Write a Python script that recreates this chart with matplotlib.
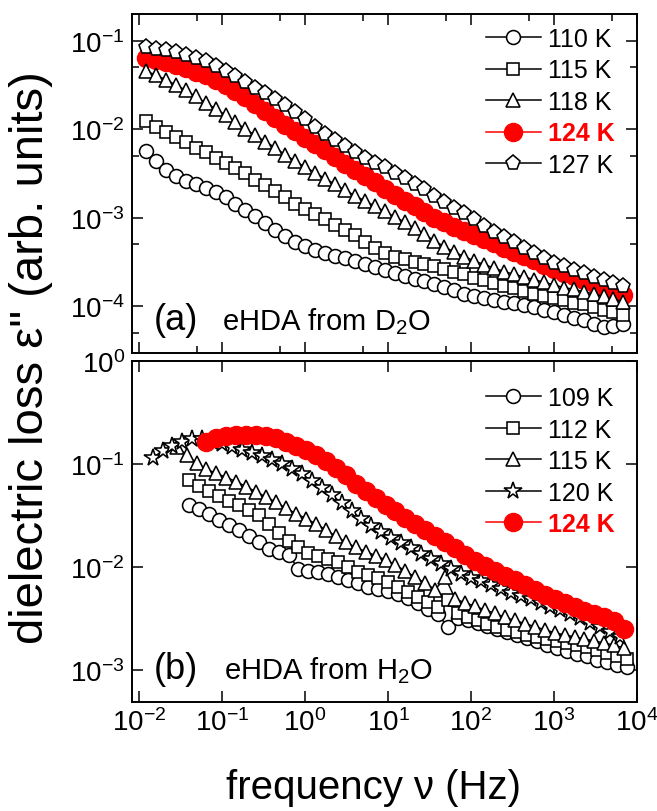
import numpy as np
import matplotlib
matplotlib.use("Agg")
import matplotlib.pyplot as plt
from matplotlib.ticker import LogLocator, NullFormatter, NullLocator

plt.rcParams['font.family'] = ['Liberation Sans', 'DejaVu Sans']
plt.rcParams['mathtext.fontset'] = 'custom'
plt.rcParams['mathtext.rm'] = 'Liberation Sans'
plt.rcParams['mathtext.it'] = 'Liberation Sans:italic'
plt.rcParams['mathtext.bf'] = 'Liberation Sans:bold'

# ---------------- panel (a): eHDA from D2O ----------------
# measurement frequency grid (log10 Hz)
logf_a = np.round(np.arange(-1.92, 3.85, 0.12), 2)
labels_a = ["110 K", "115 K", "118 K", "124 K", "127 K"]
# log10(eps'')
a_110 = [-2.25, -2.36, -2.46, -2.53, -2.58, -2.62, -2.66, -2.71, -2.77, -2.84,
         -2.91, -2.98, -3.06, -3.14, -3.21, -3.27, -3.32, -3.36, -3.40, -3.43,
         -3.46, -3.49, -3.52, -3.56, -3.59, -3.63, -3.66, -3.69, -3.72, -3.75,
         -3.78, -3.82, -3.86, -3.89, -3.91, -3.93, -3.95, -3.97, -3.99, -4.01,
         -4.04, -4.07, -4.10, -4.13, -4.16, -4.20, -4.24, -4.22, -4.20]
a_115 = [-1.91, -1.97, -2.03, -2.09, -2.15, -2.21, -2.26, -2.32, -2.38, -2.44,
         -2.50, -2.57, -2.63, -2.70, -2.77, -2.84, -2.90, -2.96, -3.02, -3.08,
         -3.14, -3.20, -3.27, -3.34, -3.40, -3.44, -3.47, -3.50, -3.52, -3.55,
         -3.58, -3.61, -3.64, -3.68, -3.71, -3.74, -3.77, -3.80, -3.83, -3.86,
         -3.89, -3.91, -3.93, -3.96, -3.98, -4.01, -4.04, -4.07, -4.10]
a_118 = [-1.34, -1.39, -1.44, -1.50, -1.56, -1.63, -1.70, -1.77, -1.84, -1.92,
         -2.00, -2.07, -2.14, -2.21, -2.29, -2.36, -2.43, -2.49, -2.56, -2.62,
         -2.69, -2.75, -2.81, -2.87, -2.93, -2.99, -3.05, -3.12, -3.19, -3.26,
         -3.33, -3.39, -3.44, -3.49, -3.53, -3.57, -3.61, -3.64, -3.67, -3.70,
         -3.73, -3.76, -3.79, -3.81, -3.84, -3.86, -3.89, -3.92, -3.95]
a_124 = [-1.20, -1.22, -1.24, -1.27, -1.31, -1.35, -1.39, -1.44, -1.50, -1.57,
         -1.64, -1.71, -1.79, -1.87, -1.95, -2.02, -2.10, -2.17, -2.24, -2.31,
         -2.39, -2.46, -2.53, -2.60, -2.68, -2.74, -2.81, -2.87, -2.94, -3.00,
         -3.05, -3.10, -3.15, -3.20, -3.24, -3.29, -3.34, -3.39, -3.43, -3.48,
         -3.53, -3.58, -3.62, -3.66, -3.70, -3.74, -3.78, -3.83, -3.87]
a_127 = [-1.07, -1.09, -1.11, -1.13, -1.16, -1.19, -1.23, -1.28, -1.34, -1.40,
         -1.47, -1.53, -1.59, -1.66, -1.73, -1.80, -1.88, -1.97, -2.05, -2.12,
         -2.19, -2.26, -2.32, -2.38, -2.43, -2.49, -2.55, -2.62, -2.68, -2.75,
         -2.82, -2.89, -2.95, -3.02, -3.09, -3.16, -3.22, -3.28, -3.34, -3.40,
         -3.46, -3.51, -3.55, -3.59, -3.63, -3.67, -3.70, -3.74, -3.77]

# ---------------- panel (b): eHDA from H2O ----------------
labels_b = ["109 K", "112 K", "115 K", "120 K", "124 K"]
logf_b109 = np.round(np.arange(-1.40, 3.89, 0.12), 2)
b_109 = [-1.40, -1.44, -1.48, -1.54, -1.59, -1.64, -1.70, -1.76, -1.83, -1.85,
         -1.88, -2.02, -2.04, -2.05, -2.07, -2.10, -2.13, -2.16, -2.19, -2.21,
         -2.23, -2.26, -2.30, -2.35, -2.41, -2.46, -2.58, -2.50, -2.52, -2.54,
         -2.57, -2.60, -2.63, -2.66, -2.69, -2.72, -2.76, -2.79, -2.82, -2.85,
         -2.87, -2.90, -2.92, -2.95, -2.97]
logf_b112 = np.round(np.arange(-1.40, 3.89, 0.12), 2)
b_112 = [-1.15, -1.21, -1.26, -1.31, -1.36, -1.40, -1.45, -1.49, -1.58, -1.67,
         -1.75, -1.81, -1.86, -1.89, -1.92, -1.95, -2.00, -2.05, -2.08, -2.11,
         -2.15, -2.19, -2.24, -2.29, -2.34, -2.39, -2.32, -2.45, -2.49, -2.52,
         -2.55, -2.58, -2.61, -2.63, -2.66, -2.68, -2.70, -2.72, -2.74, -2.76,
         -2.78, -2.81, -2.84, -2.87, -2.89]
logf_b115 = np.round(np.arange(-1.55, 3.86, 0.12), 2)
b_115 = [-0.83, -0.91, -0.99, -1.05, -1.09, -1.13, -1.17, -1.22, -1.27, -1.32,
         -1.37, -1.43, -1.48, -1.53, -1.58, -1.64, -1.70, -1.76, -1.81, -1.85,
         -1.89, -1.93, -1.98, -2.04, -2.10, -2.16, -2.22, -2.10, -2.31, -2.35,
         -2.38, -2.42, -2.45, -2.49, -2.52, -2.55, -2.58, -2.61, -2.64, -2.66,
         -2.68, -2.70, -2.72, -2.74, -2.76, -2.79]
logf_b120 = np.round(np.arange(-1.84, 3.81, 0.12), 2)
b_120 = [-0.94, -0.87, -0.82, -0.78, -0.76, -0.76, -0.78, -0.80, -0.83, -0.86,
         -0.89, -0.92, -0.96, -1.00, -1.05, -1.10, -1.16, -1.23, -1.30, -1.38,
         -1.46, -1.53, -1.60, -1.66, -1.72, -1.77, -1.82, -1.87, -1.92, -1.97,
         -2.02, -2.07, -2.11, -2.14, -2.18, -2.21, -2.25, -2.28, -2.31, -2.35,
         -2.39, -2.42, -2.46, -2.50, -2.54, -2.58, -2.63, -2.68]
logf_b124 = np.round(np.arange(-1.19, 3.86, 0.12), 2)
b_124 = [-0.78, -0.75, -0.73, -0.72, -0.715, -0.72, -0.73, -0.75, -0.78, -0.82,
         -0.86, -0.91, -0.97, -1.04, -1.11, -1.19, -1.26, -1.33, -1.40, -1.46,
         -1.52, -1.58, -1.64, -1.70, -1.76, -1.82, -1.88, -1.94, -1.99, -2.04,
         -2.09, -2.13, -2.18, -2.22, -2.27, -2.31, -2.35, -2.39, -2.43, -2.46,
         -2.49, -2.53, -2.60]

W, H = 657, 812
fig = plt.figure(figsize=(W / 100, H / 100), dpi=100)
L, R = 131.7, 636.7
ax1 = fig.add_axes([L / W, 1 - 354.0 / H, (R - L) / W, (354.0 - 14.7) / H])
ax2 = fig.add_axes([L / W, 1 - 702.7 / H, (R - L) / W, (702.7 - 362.3) / H])

def f(v):
    return 10 ** np.asarray(v, dtype=float)

lw = 1.1
mew = 1.15
RED_MS = 13
styles_a = [dict(marker='o', ms=10), dict(marker='s', ms=8.5), dict(marker='^', ms=10.5),
            None, dict(marker='p', ms=11)]
series_a = [a_110, a_115, a_118, a_124, a_127]

handles_a = []
for lab, ys, st in zip(labels_a, series_a, styles_a):
    if st is None:
        h, = ax1.plot(f(logf_a), f(ys), color='red', lw=lw, marker='o', ms=RED_MS,
                      mfc='red', mec='red', label=lab, zorder=2)
    else:
        h, = ax1.plot(f(logf_a), f(ys), color='black', lw=lw, mfc='white', mec='black',
                      mew=mew, label=lab, zorder=3, **st)
    handles_a.append(h)

series_b = [(logf_b109, b_109), (logf_b112, b_112), (logf_b115, b_115),
            (logf_b120, b_120), (logf_b124, b_124)]
styles_b = [dict(marker='o', ms=10), dict(marker='s', ms=8.5), dict(marker='^', ms=10.5),
            dict(marker='*', ms=13), None]
handles_b = []
for lab, (xs, ys), st in zip(labels_b, series_b, styles_b):
    if st is None:
        h, = ax2.plot(f(xs), f(ys), color='red', lw=lw, marker='o', ms=RED_MS,
                      mfc='red', mec='red', label=lab, zorder=4)
    else:
        h, = ax2.plot(f(xs), f(ys), color='black', lw=lw, mfc='white', mec='black',
                      mew=mew, label=lab, zorder=3, **st)
    handles_b.append(h)

for ax in (ax1, ax2):
    ax.set_xscale('log')
    ax.set_yscale('log')
    ax.set_xlim(10 ** -2.092, 1e4)
    for s in ax.spines.values():
        s.set_linewidth(1.4)
    ax.tick_params(which='both', direction='in', top=True, right=True, labelsize=20,
                   width=1.1, pad=5)
    ax.tick_params(which='major', length=7.7)
    ax.tick_params(which='minor', length=5)
    ax.xaxis.set_major_locator(LogLocator(base=10, numticks=20))
    ax.yaxis.set_major_locator(LogLocator(base=10, numticks=20))

ax1.set_ylim(10 ** -4.53, 10 ** -0.694)
ax2.set_ylim(10 ** -3.31, 1.0)
ax1.xaxis.set_minor_locator(LogLocator(base=10, subs=[5.0], numticks=20))
ax1.yaxis.set_minor_locator(LogLocator(base=10, subs=[5.0], numticks=20))
ax1.xaxis.set_minor_formatter(NullFormatter())
ax1.yaxis.set_minor_formatter(NullFormatter())
ax1.tick_params(labelbottom=False)
ax2.xaxis.set_minor_locator(NullLocator())
ax2.yaxis.set_minor_locator(NullLocator())

for ax, handles, yanc in ((ax1, handles_a, 0.961), (ax2, handles_b, 0.927)):
    leg = ax.legend(handles=handles, loc='upper left', bbox_to_anchor=(0.701, yanc),
                    frameon=False, fontsize=18, handlelength=2.2, handletextpad=0.3,
                    labelspacing=0.3, borderaxespad=0, borderpad=0)
    for t in leg.get_texts():
        if t.get_text() == "124 K":
            t.set_color('red')
            t.set_fontweight('bold')

ax1.text(0.043, 0.0707, "(a)", transform=ax1.transAxes, fontsize=26, va='baseline')
ax1.text(0.179, 0.0707, "eHDA from D$_2$O", transform=ax1.transAxes, fontsize=21, va='baseline')
ax2.text(0.043, 0.070, "(b)", transform=ax2.transAxes, fontsize=26, va='baseline')
ax2.text(0.183, 0.070, "eHDA from H$_2$O", transform=ax2.transAxes, fontsize=21, va='baseline')

fig.text(31 / W, 1 - 358 / H, 'dielectric loss ε" (arb. units)', rotation=90,
         ha='center', va='center', fontsize=34)
fig.text(374 / W, 1 - 788 / H, 'frequency ν (Hz)', ha='center', va='center', fontsize=29)

fig.savefig("out.png", dpi=100)
